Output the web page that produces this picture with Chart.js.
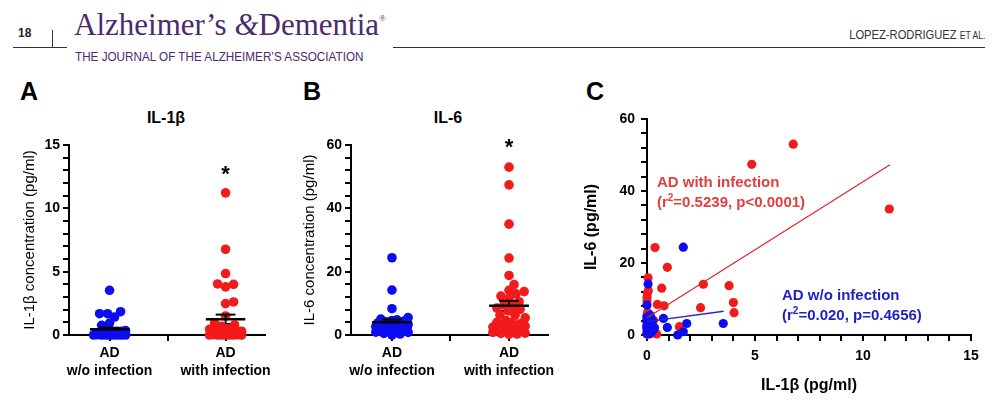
<!DOCTYPE html>
<html>
<head>
<meta charset="utf-8">
<script src="https://cdn.jsdelivr.net/npm/chart.js@4.4.0/dist/chart.umd.min.js"></script>
<style>
  body { margin: 0; background: #fff; font-family: "Liberation Sans", Arial, sans-serif; }
  #page { position: relative; width: 1007px; height: 412px; overflow: hidden; }
  .abs { position: absolute; white-space: nowrap; line-height: 1; }
  canvas { position: absolute; }
</style>
</head>
<body>
<div id="page">
  <div class="abs" style="left:18px;top:27px;font-size:12px;font-weight:bold;color:#222">18</div>
  <div class="abs" style="left:52px;top:30px;width:1px;height:17px;background:#333"></div>
  <div class="abs" style="left:13px;top:47px;width:54px;height:1px;background:#333"></div>
  <div class="abs" style="left:393px;top:47px;width:592px;height:1px;background:#333"></div>
  <div class="abs" style="left:74px;top:9px;font-family:'Liberation Serif',serif;font-size:31px;color:#4b2a6e">Alzheimer’s <i>&amp;</i>Dementia<span style="font-size:9px;vertical-align:14px">®</span></div>
  <div class="abs" style="left:75px;top:50px;font-size:13px;color:#4b2a6e;transform:scaleX(0.9);transform-origin:left top">THE JOURNAL OF THE ALZHEIMER’S ASSOCIATION</div>
  <div class="abs" style="right:22px;top:28px;font-size:13px;color:#333;transform:scaleX(0.86);transform-origin:right top">LOPEZ-RODRIGUEZ <span style="font-size:10px">ET AL.</span></div>

  <div class="abs" style="left:20px;top:79px;font-size:25px;font-weight:bold">A</div>
  <div class="abs" style="left:303px;top:79px;font-size:25px;font-weight:bold">B</div>
  <div class="abs" style="left:586px;top:79px;font-size:25px;font-weight:bold">C</div>
  <div class="abs" style="left:116px;top:110px;width:100px;text-align:center;font-size:16px;font-weight:bold">IL-1β</div>
  <div class="abs" style="left:398px;top:110px;width:100px;text-align:center;font-size:16px;font-weight:bold">IL-6</div>

  <canvas id="chartA" width="290" height="290" style="left:0px;top:100px"></canvas>
  <canvas id="chartB" width="290" height="290" style="left:290px;top:100px"></canvas>
  <canvas id="chartC" width="437" height="300" style="left:570px;top:100px"></canvas>
</div>
<script>
// groups
const groupLabels = [['AD', 'w/o infection'], ['AD', 'with infection']];

// AD w/o infection, one entry per patient (pg/ml)
const blueIL1b = [3.53, 1.84, 1.68, 1.68, 1.42, 0.94, 0.76, 0.05, 0.0, 0.3, 0.2, 0.15, 0.1, 0.0, 0.05,
                  0.0, 0.12, 0.0, 0.25, 0.08, 0.0, 0.18, 0.0, 0.1, 0.02, 0.0, 0.35, 0.06, 0.0, 0.22];
const blueIL6  = [3.2, 3.2, 24.4, 0.9, 0.0, 2.1, 4.6, 14.2, 8.3, 1.5, 2.5, 5.5, 4.8, 3.8, 3.0,
                  2.2, 1.0, 0.5, 4.2, 3.5, 1.8, 2.8, 5.0, 0.3, 3.3, 4.4, 2.0, 1.2, 2.6, 0.8];

// AD with infection
const redIL1b = [11.22, 6.77, 4.85, 4.03, 4.0, 3.8, 2.61, 2.48, 1.5, 0.94, 0.79, 0.68, 0.48, 0.45, 0.37,
                 0.3, 0.25, 0.2, 0.15, 0.1, 0.05, 0.02, 0.0, 0.0, 0.03, 0.0, 0.08, 0.0, 0.12, 0.0,
                 0.05, 0.18, 0.0, 0.22, 0.0, 0.1, 0.3, 0.06];
const redIL6  = [35.0, 53.0, 47.4, 6.2, 9.0, 13.7, 14.1, 7.6, 2.3, 18.8, 8.1, 13.0, 8.5, 0.3, 24.3,
                 4.0, 3.0, 1.5, 2.2, 0.8, 15.9, 11.6, 10.5, 9.5, 6.3, 5.4, 4.6, 3.5, 2.8, 1.2,
                 0.5, 1.9, 0.2, 3.9, 2.5, 1.0, 0.6, 12.3];

// mean +/- SEM bars
const il1bMean = [0.45, 1.24];
const il1bSem  = [0.13, 0.37];
const il6Mean  = [4.0, 9.2];
const il6Sem   = [0.9, 1.6];

// regression lines in panel C
const redFitX  = [0, 11.25];
const redFitY  = [4.8, 47.3];
const blueFitX = [0, 3.55];
const blueFitY = [3.7, 6.6];

// labelled ticks
const il1bTicks = [0, 5, 10, 15];
const il6Ticks  = [0, 20, 40, 60];
const cTicksX   = [0, 5, 10, 15];

const BLUE = '#0c0cf2';
const RED = '#f21a1a';
const FONT = '"Liberation Sans", Arial, sans-serif';

Chart.defaults.font.family = FONT;
Chart.defaults.color = '#000';

// simple beeswarm, in pixels, then back to category units
function swarm(values, pxPerUnit, center) {
  const r = 3.8, maxHalf = 16, pxPerCat = 116;
  const order = values.map((v, i) => i).sort((a, b) => values[a] - values[b]);
  const placed = [];
  const xs = new Array(values.length);
  order.forEach(i => {
    const py = values[i] * pxPerUnit;
    let best = 0, bestScore = Infinity;
    for (let k = 0; k <= maxHalf * 2; k++) {
      const dx = (k % 2 ? 1 : -1) * Math.ceil(k / 2);
      let overlap = 0;
      placed.forEach(p => {
        overlap = Math.max(overlap, 2 * r - Math.hypot(p[0] - dx, p[1] - py));
      });
      if (overlap <= 0) { best = dx; bestScore = 0; break; }
      if (overlap < bestScore) { bestScore = overlap; best = dx; }
    }
    placed.push([best, py]);
    xs[i] = center + best / pxPerCat;
  });
  return xs;
}

function dots(xs, ys, color, order, radius) {
  return {
    data: ys.map((v, i) => ({ x: xs[i], y: v })),
    backgroundColor: color,
    borderWidth: 0,
    pointRadius: radius,
    pointHoverRadius: radius,
    order: order,
    clip: false
  };
}

function seg(pts, color, width, order) {
  return {
    data: pts.map(p => ({ x: p[0], y: p[1] })),
    showLine: true,
    borderColor: color,
    borderWidth: width,
    pointRadius: 0,
    order: order,
    clip: false
  };
}

function meanBars(means, sems) {
  const sets = [];
  means.forEach((m, i) => {
    const s = sems[i];
    sets.push(seg([[i - 0.17, m], [i + 0.17, m]], '#000', 2.5, 0));
    sets.push(seg([[i, m], [i, m + s]], '#000', 2, 0));
    sets.push(seg([[i - 0.085, m + s], [i + 0.085, m + s]], '#000', 2, 0));
    sets.push(seg([[i, m - s], [i, m]], '#000', 2, 5));
    sets.push(seg([[i - 0.085, m - s], [i + 0.085, m - s]], '#000', 2, 5));
  });
  return sets;
}

function valueAxis(min, max, step, labels, width, title, titleFont, titlePad, labelPad) {
  return {
    type: 'linear',
    min: min,
    max: max,
    afterBuildTicks: s => {
      s.ticks = [];
      for (let v = min; v <= max + 1e-9; v += step) s.ticks.push({ value: v });
    },
    afterFit: s => { s.width = width; },
    border: { color: '#000', width: 2 },
    grid: { drawOnChartArea: false, color: '#000', lineWidth: 2, tickLength: 6 },
    ticks: {
      autoSkip: false, padding: labelPad, color: '#000',
      font: { size: 14, weight: 'bold' },
      callback: v => labels.includes(v) ? String(v) : ''
    },
    title: { display: true, text: title, color: '#000', font: titleFont, padding: { top: titlePad, bottom: 0 } }
  };
}

function groupAxis(min, max, height) {
  return {
    type: 'linear',
    min: min,
    max: max,
    afterBuildTicks: s => { s.ticks = [{ value: 0 }, { value: 0.5 }, { value: 1 }]; },
    afterFit: s => { s.height = height; },
    border: { color: '#000', width: 2 },
    grid: { drawOnChartArea: false, color: '#000', lineWidth: 2, tickLength: 6 },
    ticks: {
      autoSkip: false, maxRotation: 0, minRotation: 0, padding: 3, color: '#000',
      font: { size: 14, weight: 'bold', lineHeight: 1.3 },
      callback: v => v === 0 ? groupLabels[0] : v === 1 ? groupLabels[1] : ''
    }
  };
}

// asterisks and panel C notes, placed in data units
const textMarks = {
  id: 'textMarks',
  afterDatasetsDraw(chart, args, opts) {
    const ctx = chart.ctx, xs = chart.scales.x, ys = chart.scales.y;
    (opts.items || []).forEach(it => {
      ctx.save();
      ctx.fillStyle = it.color;
      ctx.textBaseline = 'middle';
      let px = xs.getPixelForValue(it.x);
      const py = ys.getPixelForValue(it.y);
      const font = 'bold ' + it.size + 'px ' + FONT;
      const small = 'bold ' + Math.round(it.size * 0.65) + 'px ' + FONT;
      ctx.textAlign = it.center ? 'center' : 'left';
      it.parts.forEach(p => {
        const sup = p.startsWith('^');
        const t = sup ? p.slice(1) : p;
        ctx.font = sup ? small : font;
        ctx.fillText(t, px, sup ? py - it.size * 0.33 : py);
        px += ctx.measureText(t).width;
      });
      ctx.restore();
    });
  }
};

function baseOptions(padding, items, scales) {
  return {
    responsive: false,
    animation: false,
    layout: { padding: padding },
    plugins: {
      legend: { display: false },
      tooltip: { enabled: false },
      textMarks: { items: items }
    },
    scales: scales
  };
}

// A: IL-1beta
new Chart(document.getElementById('chartA'), {
  type: 'scatter',
  data: {
    datasets: [
      ...meanBars(il1bMean, il1bSem),
      dots(swarm(blueIL1b, 12.67, 0), blueIL1b, BLUE, 2, 4.8),
      dots(swarm(redIL1b, 12.67, 1), redIL1b, RED, 2, 4.8)
    ]
  },
  options: baseOptions(
    { left: 0, right: 25, top: 45, bottom: 0 },
    [{ x: 1, y: 12.6, parts: ['*'], center: true, size: 22, color: '#000' }],
    {
      x: groupAxis(-0.35, 1.34, 55),
      y: valueAxis(0, 15, 1, il1bTicks, 69, 'IL-1β concentration (pg/ml)', { size: 15 }, 21, 3)
    }
  ),
  plugins: [textMarks]
});

// B: IL-6
new Chart(document.getElementById('chartB'), {
  type: 'scatter',
  data: {
    datasets: [
      ...meanBars(il6Mean, il6Sem),
      dots(swarm(blueIL6, 3.18, 0), blueIL6, BLUE, 2, 4.8),
      dots(swarm(redIL6, 3.18, 1), redIL6, RED, 2, 4.8)
    ]
  },
  options: baseOptions(
    { left: 0, right: 32, top: 45, bottom: 0 },
    [{ x: 1, y: 59.2, parts: ['*'], center: true, size: 22, color: '#000' }],
    {
      x: groupAxis(-0.35, 1.333, 55),
      y: valueAxis(0, 60, 4, il6Ticks, 61, 'IL-6 concentration (pg/ml)', { size: 15 }, 11, 3)
    }
  ),
  plugins: [textMarks]
});

// C: IL-6 vs IL-1beta
const cX = valueAxis(0, 15, 1, cTicksX, 0, 'IL-1β (pg/ml)', { size: 16, weight: 'bold' }, 0, 7);
cX.afterFit = s => { s.height = 65; };
cX.title.padding = { top: 0, bottom: 5 };
new Chart(document.getElementById('chartC'), {
  type: 'scatter',
  data: {
    datasets: [
      seg(redFitX.map((x, i) => [x, redFitY[i]]), '#e3282b', 1.3, 0),
      seg(blueFitX.map((x, i) => [x, blueFitY[i]]), '#2626bf', 1.3, 0),
      dots(blueIL1b, blueIL6, BLUE, 1, 4.6),
      dots(redIL1b, redIL6, RED, 2, 4.6)
    ]
  },
  options: baseOptions(
    { left: 0, right: 36, top: 19, bottom: 0 },
    [
      { x: 0.46, y: 42.2, parts: ['AD with infection'], size: 15, color: '#e0403f' },
      { x: 0.46, y: 36.7, parts: ['(r', '^2', '=0.5239, p<0.0001)'], size: 15, color: '#e0403f' },
      { x: 6.25, y: 10.8, parts: ['AD w/o infection'], size: 15, color: '#1f1fc4' },
      { x: 6.25, y: 5.3, parts: ['(r', '^2', '=0.020, p=0.4656)'], size: 15, color: '#1f1fc4' }
    ],
    {
      x: cX,
      y: valueAxis(0, 60, 4, il6Ticks, 77, 'IL-6 (pg/ml)', { size: 16, weight: 'bold' }, 12, 6)
    }
  ),
  plugins: [textMarks]
});
</script>
</body>
</html>
